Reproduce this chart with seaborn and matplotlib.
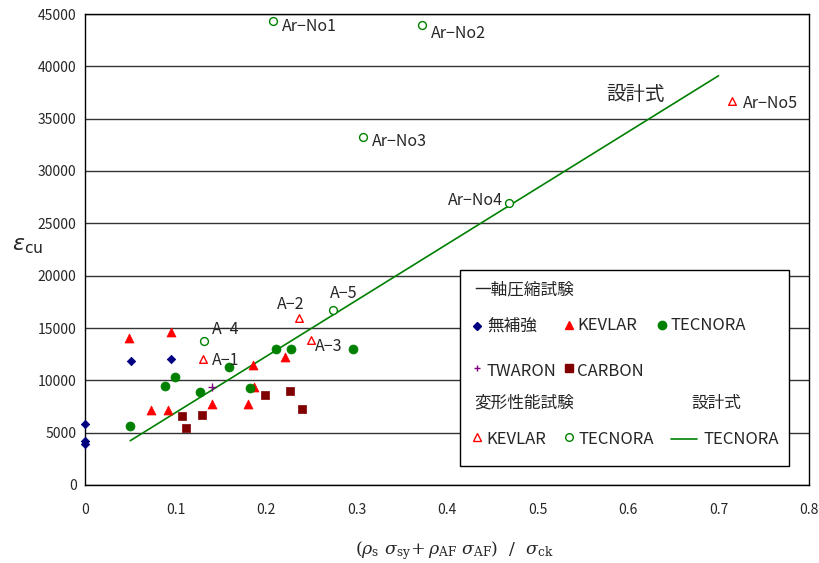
import matplotlib
matplotlib.use('Agg')
import matplotlib.pyplot as plt
import seaborn as sns
from matplotlib.patches import Rectangle
from matplotlib.lines import Line2D

# 一軸圧縮試験
plain_x = [0.0, 0.0, 0.0, 0.0505, 0.0947]
plain_y = [5850, 4250, 3950, 11850, 12050]

kevlar_x = [0.0486, 0.0947, 0.186, 0.221, 0.0729, 0.092, 0.140, 0.1797, 0.1867]
kevlar_y = [14020, 14590, 11460, 12260, 7170, 7170, 7710, 7710, 9390]

tecnora_x = [0.0497, 0.088, 0.099, 0.1274, 0.1595, 0.1823, 0.2107, 0.2273, 0.2965]
tecnora_y = [5670, 9490, 10350, 8860, 11240, 9240, 13020, 12960, 12960]

twaron_x = [0.140]
twaron_y = [9390]

carbon_x = [0.1068, 0.1116, 0.129, 0.1993, 0.2265, 0.240]
carbon_y = [6590, 5410, 6690, 8600, 9010, 7230]

# 変形性能試験
def_kevlar_x = [0.1307, 0.2365, 0.2494, 0.7145]
def_kevlar_y = [12040, 15930, 13850, 36720]
def_kevlar_lab = ['A−1', 'A−2', 'A−3', 'Ar−No5']

def_tecnora_x = [0.1315, 0.2737, 0.2074, 0.372, 0.3076, 0.4685]
def_tecnora_y = [13790, 16720, 44360, 43950, 33220, 26910]
def_tecnora_lab = ['A−4', 'A−5', 'Ar−No1', 'Ar−No2', 'Ar−No3', 'Ar−No4']

# 設計式 (TECNORA)
design_x = [0.05, 0.70]
design_y = [4230, 39100]

x_ticks = [0, 0.1, 0.2, 0.3, 0.4, 0.5, 0.6, 0.7, 0.8]
x_tick_labels = ['0', '0.1', '0.2', '0.3', '0.4', '0.5', '0.6', '0.7', '0.8']
y_ticks = list(range(0, 45001, 5000))

sns.set_style('white')
plt.rcParams['font.family'] = ['Noto Sans CJK JP', 'DejaVu Sans']
plt.rcParams['axes.unicode_minus'] = False

W, H = 820, 563
fig = plt.figure(figsize=(W / 100, H / 100), dpi=100)
ax = fig.add_axes([85 / W, 1 - 485 / H, (809 - 85) / W, (485 - 14) / H])


def fp(px, py):
    """image pixel -> figure fraction"""
    return px / W, 1 - py / H


NAVY, RED, GREEN, PURPLE, MAROON = '#000080', '#ff0000', '#008000', '#800080', '#800000'

common = dict(ax=ax, clip_on=False, zorder=4)
sns.scatterplot(x=plain_x, y=plain_y, marker='D', s=18, color=NAVY, edgecolor=NAVY, linewidth=0.6, **common)
sns.scatterplot(x=kevlar_x, y=kevlar_y, marker='^', s=42, color=RED, edgecolor=RED, linewidth=0.5, **common)
sns.scatterplot(x=tecnora_x, y=tecnora_y, marker='o', s=42, color=GREEN, edgecolor=GREEN, linewidth=0.5, **common)
sns.scatterplot(x=twaron_x, y=twaron_y, marker='+', s=30, color=PURPLE, linewidth=1, **common)
sns.scatterplot(x=carbon_x, y=carbon_y, marker='s', s=38, color=MAROON, edgecolor=MAROON, linewidth=0.5, **common)
sns.scatterplot(x=def_kevlar_x, y=def_kevlar_y, marker='^', s=30, facecolor='white', edgecolor=RED, linewidth=1, **common)
sns.scatterplot(x=def_tecnora_x, y=def_tecnora_y, marker='o', s=32, facecolor='white', edgecolor=GREEN, linewidth=1, **common)
sns.lineplot(x=design_x, y=design_y, color=GREEN, linewidth=1.2, ax=ax, zorder=3)

# point labels (offsets in points)
offsets = {
    'A−1': (6, -1, 'left'), 'A−2': (-16, 10, 'left'), 'A−3': (3, -5, 'left'),
    'A−4': (6, 8, 'left'), 'A−5': (-2, 12, 'left'), 'Ar−No1': (7, -4, 'left'),
    'Ar−No2': (7, -6, 'left'), 'Ar−No3': (6, -3, 'left'), 'Ar−No4': (-4, 2, 'right'),
    'Ar−No5': (8, -2, 'left'),
}
for xs, ys, labs in [(def_kevlar_x, def_kevlar_y, def_kevlar_lab),
                     (def_tecnora_x, def_tecnora_y, def_tecnora_lab)]:
    for x, y, lab in zip(xs, ys, labs):
        dx, dy, ha = offsets[lab]
        ax.annotate(lab, (x, y), xytext=(dx, dy), textcoords='offset points',
                    ha=ha, va='center', fontsize=11.5, zorder=5)

ax.text(0.5765, 37300, '設計式', fontsize=14, va='center', ha='left')

ax.set_xlim(0, 0.8)
ax.set_ylim(0, 45000)
ax.set_xticks(x_ticks)
ax.set_xticklabels(x_tick_labels)
ax.set_yticks(y_ticks)
ax.tick_params(axis='x', direction='in', length=4, pad=13, labelsize=10, color='black')
ax.tick_params(axis='y', direction='out', length=3, pad=3, labelsize=10, color='black')
ax.yaxis.grid(True, color='#333333', linewidth=1)
ax.xaxis.grid(False)
ax.set_axisbelow(True)
for sp in ax.spines.values():
    sp.set_color('black')
    sp.set_linewidth(1)
ax.set_xlabel('')
ax.set_ylabel('')

# axis titles
fig.text(*fp(12, 245), r'$\varepsilon_{\mathrm{cu}}$', fontsize=16, va='center', ha='left')
fig.text(*fp(454, 551),
         r'$(\rho_{\mathrm{s}}\ \sigma_{\mathrm{sy}}\!+\rho_{\mathrm{AF}}\ \sigma_{\mathrm{AF}})\ \ /\ \ \sigma_{\mathrm{ck}}$',
         fontsize=12.5, ha='center', va='center', math_fontfamily='dejavuserif')

# legend box drawn by hand
x0, y0 = fp(460, 466)
x1, y1 = fp(789, 270)
fig.add_artist(Rectangle((x0, y0), x1 - x0, y1 - y0, transform=fig.transFigure,
                         facecolor='white', edgecolor='black', linewidth=1, zorder=5))


def leg_marker(px, py, **kw):
    x, y = fp(px, py)
    fig.add_artist(Line2D([x], [y], transform=fig.transFigure, linestyle='none', zorder=6, **kw))


def leg_text(px, py, s, size=12):
    fig.text(*fp(px, py), s, fontsize=size, va='center', ha='left', zorder=6)


leg_text(474, 290, '一軸圧縮試験')
leg_marker(477, 326, marker='D', markersize=4, color=NAVY)
leg_text(487, 326, '無補強')
leg_marker(569, 325, marker='^', markersize=6, color=RED)
leg_text(577, 326, 'KEVLAR')
leg_marker(662, 325, marker='o', markersize=6, color=GREEN)
leg_text(671, 326, 'TECNORA')
leg_marker(477, 368, marker='+', markersize=5, color=PURPLE, markeredgewidth=1)
leg_text(487, 372, 'TWARON')
leg_marker(569, 368, marker='s', markersize=6, color=MAROON)
leg_text(577, 372, 'CARBON')
leg_text(474, 403, '変形性能試験')
leg_text(691, 403, '設計式')
leg_marker(477, 437, marker='^', markersize=5.5, markerfacecolor='white', markeredgecolor=RED, markeredgewidth=1)
leg_text(486, 439, 'KEVLAR')
leg_marker(569, 437, marker='o', markersize=5.5, markerfacecolor='white', markeredgecolor=GREEN, markeredgewidth=1)
leg_text(579, 439, 'TECNORA')
lx0, ly = fp(671, 439)
lx1, _ = fp(697, 439)
fig.add_artist(Line2D([lx0, lx1], [ly, ly], transform=fig.transFigure, color=GREEN, linewidth=1.2, zorder=6))
leg_text(704, 439, 'TECNORA')

fig.savefig('out.png', dpi=100)
